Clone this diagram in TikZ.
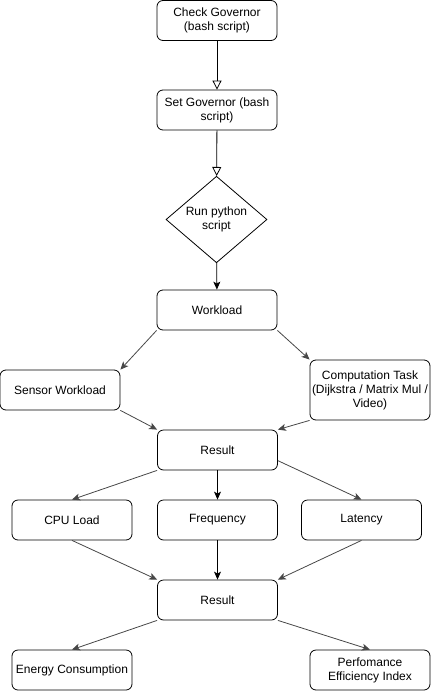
\documentclass[tikz,border=0pt]{standalone}
\usepackage{fontspec}
\setmainfont{Liberation Sans}
\usetikzlibrary{shapes.geometric,arrows.meta}

\begin{document}
\begin{tikzpicture}[
      x=1pt, y=-1pt,
      font=\fontsize{12}{14}\selectfont,
      box/.style={draw, line width=0.8pt, rounded corners=6pt, minimum width=120pt, minimum height=40pt, align=center, inner sep=1pt},
      decision/.style={draw, line width=0.8pt, diamond, minimum width=101pt, minimum height=80pt, inner sep=0pt, align=center},
      hollow/.style={line width=0.8pt, -{Triangle[open, length=9pt, width=9pt]}},
      flow/.style={line width=0.8pt, -{Stealth[length=8pt, width=7pt, inset=2pt]}},
      side/.style={flow, draw=black!72, color=black!72},
  ]

  % Khung bao cố định theo kích thước ảnh gốc
  \useasboundingbox (0,0) rectangle (431,691);

  % Các ô chữ nhật của lưu đồ
  \foreach \name/\x/\y/\txt in {
      check/217/20.5/{Check Governor\\(bash script)},
      set/217/110/{Set Governor (bash\\script)},
      work/217/310/{Workload},
      sensor/60/390/{Sensor Workload},
      res1/217.5/450/{Result},
      cpu/72/520/{CPU Load},
      freq/217.5/520/{Frequency},
      lat/361.5/520/{Latency},
      res2/217.5/600/{Result},
      energy/72/670/{Energy Consumption},
      perf/370/670/{Perfomance\\Efficiency Index}} {
      \node[box] (\name) at (\x, \y) {\txt};
  }
  \node[box, minimum height=60pt] (task) at (370, 390) {Computation Task\\(Dijkstra / Matrix Mul /\\Video)};

  % Ô quyết định
  \node[decision] (run) at (216.5, 219.5) {Run python\\script};

  % Mũi tên rỗng
  \draw[hollow] (check) -- (set);
  \draw[hollow] (set) -- (run);

  % Mũi tên thẳng đứng
  \foreach \a/\b in {run/work, res1/freq, freq/res2} {
      \draw[flow] (\a) -- (\b);
  }

  % Mũi tên chéo
  \foreach \a/\b in {work.south west/sensor.north east, work.south east/task.north west,
      sensor.south east/res1.north west, task.south west/res1.north east,
      res1.south west/cpu.north, res1.-10/lat.north,
      cpu.south/res2.north west, lat.south/res2.north east,
      res2.south west/energy.north, res2.south east/perf.north} {
      \draw[side] (\a) -- (\b);
  }

\end{tikzpicture}
\end{document}
